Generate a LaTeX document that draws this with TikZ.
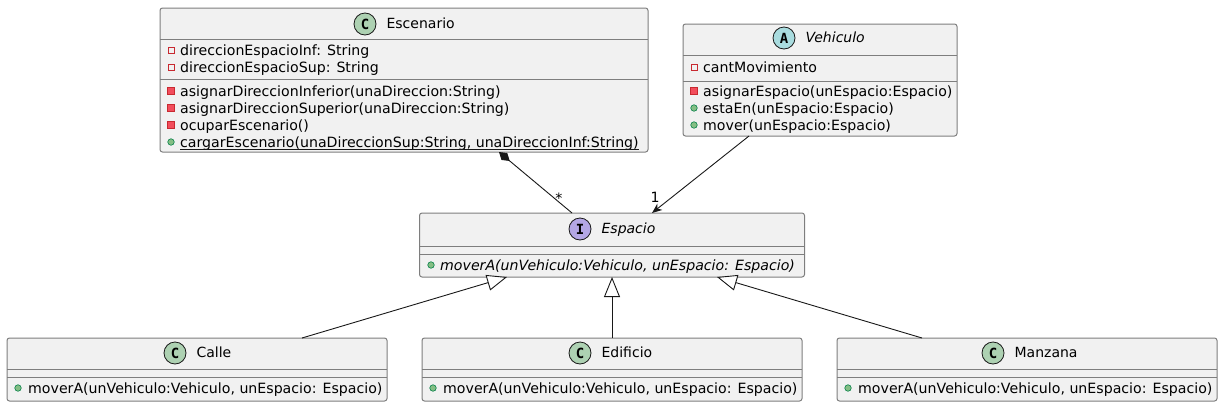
\documentclass[tikz,border=0pt]{standalone}
\usepackage{fontspec}
\setmainfont{DejaVu Sans}
\newfontfamily\iconfont{DejaVu Sans Mono}
\usepackage{xcolor}
\usepackage{tikz}
\usetikzlibrary{arrows.meta,positioning}
\definecolor{umlfill}{HTML}{F1F1F1}
\definecolor{umlline}{HTML}{7E7E7E}
\definecolor{umlink}{HTML}{181818}
\definecolor{iconC}{HTML}{ADD1B2}
\definecolor{iconA}{HTML}{A9DCDF}
\definecolor{iconI}{HTML}{B4A7E5}
\definecolor{privred}{HTML}{C82930}
\definecolor{privfill}{HTML}{F24D5C}
\definecolor{pubgreen}{HTML}{038048}
\definecolor{pubfill}{HTML}{84BE84}

\begin{document}
\begin{tikzpicture}[x=1pt,y=-1pt,font=\fontsize{14.15}{17}\selectfont,
        umlbox/.style={rectangle,draw=umlline,fill=umlfill,line width=1pt,
                       rounded corners=2.5pt,inner sep=0pt,outer sep=0pt},
        sep/.style={draw=umlline,line width=1pt},
        cicon/.style={circle,draw=umlink,line width=0.8pt,minimum size=22pt,
                      inner sep=0pt,font=\iconfont\bfseries\fontsize{14}{14}\selectfont},
        title/.style={inner sep=0pt,text height=10pt,text depth=3pt,yshift=-1pt,
                      font=\fontsize{14}{17}\selectfont},
        member/.style={anchor=west,inner sep=0pt,text height=10pt,text depth=3pt,yshift=-1.5pt},
        privfield/.style={rectangle,draw=privred,line width=0.8pt,minimum size=6pt,inner sep=0pt},
        privmeth/.style={rectangle,draw=privred,fill=privfill,line width=0.8pt,minimum size=6.5pt,inner sep=0pt},
        pubmeth/.style={circle,draw=pubgreen,fill=pubfill,line width=0.6pt,minimum size=6.5pt,inner sep=0pt},
        link/.style={draw=umlink,line width=0.9pt}]
      \useasboundingbox (0,0) rectangle (1223,407);

      % Escenario
      \node[umlbox,minimum width=488pt,minimum height=144pt] (esc) at (404,80) {};
      \node[cicon,fill=iconC] (esc-ic) at (365,24) {C};
      \node[title,right=10pt of esc-ic] (esc-t) {Escenario};
      \draw[sep] (esc.west |- 0,39) -- (esc.east |- 0,39);
      \draw[sep] (esc.west |- 0,79) -- (esc.east |- 0,79);
      \node[privfield] (esc-v1) at (171,50) {};
      \node[member] (esc-a1) at (180,50) {direccionEspacioInf: String};
      \node[privfield] (esc-v2) at (171,67) {};
      \node[member] (esc-a2) at (180,67) {direccionEspacioSup: String};
      \node[privmeth] (esc-v3) at (171,91) {};
      \node[member] (esc-m1) at (180,91) {asignarDireccionInferior(unaDireccion:String)};
      \node[privmeth] (esc-v4) at (171,108) {};
      \node[member] (esc-m2) at (180,108) {asignarDireccionSuperior(unaDireccion:String)};
      \node[privmeth] (esc-v5) at (171,125) {};
      \node[member] (esc-m3) at (180,125) {ocuparEscenario()};
      \node[pubmeth] (esc-v6) at (171,142) {};
      \node[member] (esc-m4) at (180,142) {cargarEscenario(unaDireccionSup:String, unaDireccionInf:String)};
      \draw[umlink,line width=0.9pt] ([yshift=-2pt]esc-m4.base west) -- ([yshift=-2pt]esc-m4.base east);

      % Vehiculo
      \node[umlbox,minimum width=274pt,minimum height=112pt] (veh) at (820,80) {};
      \node[cicon,fill=iconA] (veh-ic) at (784,38) {A};
      \node[title,right=10pt of veh-ic] (veh-t) {\itshape Vehiculo};
      \draw[sep] (veh.west |- 0,55) -- (veh.east |- 0,55);
      \draw[sep] (veh.west |- 0,81) -- (veh.east |- 0,81);
      \node[privfield] (veh-v1) at (694,67) {};
      \node[member] (veh-a1) at (703,67) {cantMovimiento};
      \node[privmeth] (veh-v2) at (694,91) {};
      \node[member] (veh-m1) at (703,91) {asignarEspacio(unEspacio:Espacio)};
      \node[pubmeth] (veh-v3) at (694,108) {};
      \node[member] (veh-m2) at (703,108) {estaEn(unEspacio:Espacio)};
      \node[pubmeth] (veh-v4) at (694,125) {};
      \node[member] (veh-m3) at (703,125) {mover(unEspacio:Espacio)};

      % Espacio
      \node[umlbox,minimum width=385pt,minimum height=64pt] (esp) at (612,245) {};
      \node[cicon,fill=iconI] (esp-ic) at (580,229) {I};
      \node[title,right=10pt of esp-ic] (esp-t) {\itshape Espacio};
      \draw[sep] (esp.west |- 0,246) -- (esp.east |- 0,246);
      \draw[sep] (esp.west |- 0,254) -- (esp.east |- 0,254);
      \node[pubmeth] (esp-v1) at (431,265) {};
      \node[member] (esp-m1) at (440,265) {\itshape moverA(unVehiculo:Vehiculo, unEspacio: Espacio)};

      % Calle
      \node[umlbox,minimum width=380pt,minimum height=63pt] (calle) at (197,369.5) {};
      \node[cicon,fill=iconC] (calle-ic) at (175,353) {C};
      \node[title,right=10pt of calle-ic] (calle-t) {Calle};
      \draw[sep] (calle.west |- 0,369) -- (calle.east |- 0,369);
      \draw[sep] (calle.west |- 0,377) -- (calle.east |- 0,377);
      \node[pubmeth] (calle-v1) at (18,388) {};
      \node[member] (calle-m1) at (28,388) {moverA(unVehiculo:Vehiculo, unEspacio: Espacio)};

      % Edificio
      \node[umlbox,minimum width=380pt,minimum height=63pt] (edif) at (612,369.5) {};
      \node[cicon,fill=iconC] (edif-ic) at (580,353) {C};
      \node[title,right=10pt of edif-ic] (edif-t) {Edificio};
      \draw[sep] (edif.west |- 0,369) -- (edif.east |- 0,369);
      \draw[sep] (edif.west |- 0,377) -- (edif.east |- 0,377);
      \node[pubmeth] (edif-v1) at (433,388) {};
      \node[member] (edif-m1) at (443,388) {moverA(unVehiculo:Vehiculo, unEspacio: Espacio)};

      % Manzana
      \node[umlbox,minimum width=380pt,minimum height=63pt] (manz) at (1027,369.5) {};
      \node[cicon,fill=iconC] (manz-ic) at (993,353) {C};
      \node[title,right=10pt of manz-ic] (manz-t) {Manzana};
      \draw[sep] (manz.west |- 0,369) -- (manz.east |- 0,369);
      \draw[sep] (manz.west |- 0,377) -- (manz.east |- 0,377);
      \node[pubmeth] (manz-v1) at (848,388) {};
      \node[member] (manz-m1) at (858,388) {moverA(unVehiculo:Vehiculo, unEspacio: Espacio)};

      % relations
      \draw[link,{Diamond[length=14pt,width=9pt]}-] ([xshift=95pt]esc.south) -- ([xshift=-40pt]esp.north);
      \draw[link,-{Stealth[length=10pt,width=8pt,inset=3pt]}] ([xshift=-71pt]veh.south) -- ([xshift=40pt]esp.north);
      \node (mult-esc) at (559,198) {*};
      \node (mult-veh) at (655,197) {1};
      \draw[link,-{Triangle[length=20pt,width=16pt,fill=white]}] ([xshift=105pt]calle.north) -- ([xshift=-105pt]esp.south);
      \draw[link,-{Triangle[length=20pt,width=16pt,fill=white]}] (edif.north) -- (esp.south);
      \draw[link,-{Triangle[length=20pt,width=16pt,fill=white]}] ([xshift=-105pt]manz.north) -- ([xshift=105pt]esp.south);
    \end{tikzpicture}
\end{document}
